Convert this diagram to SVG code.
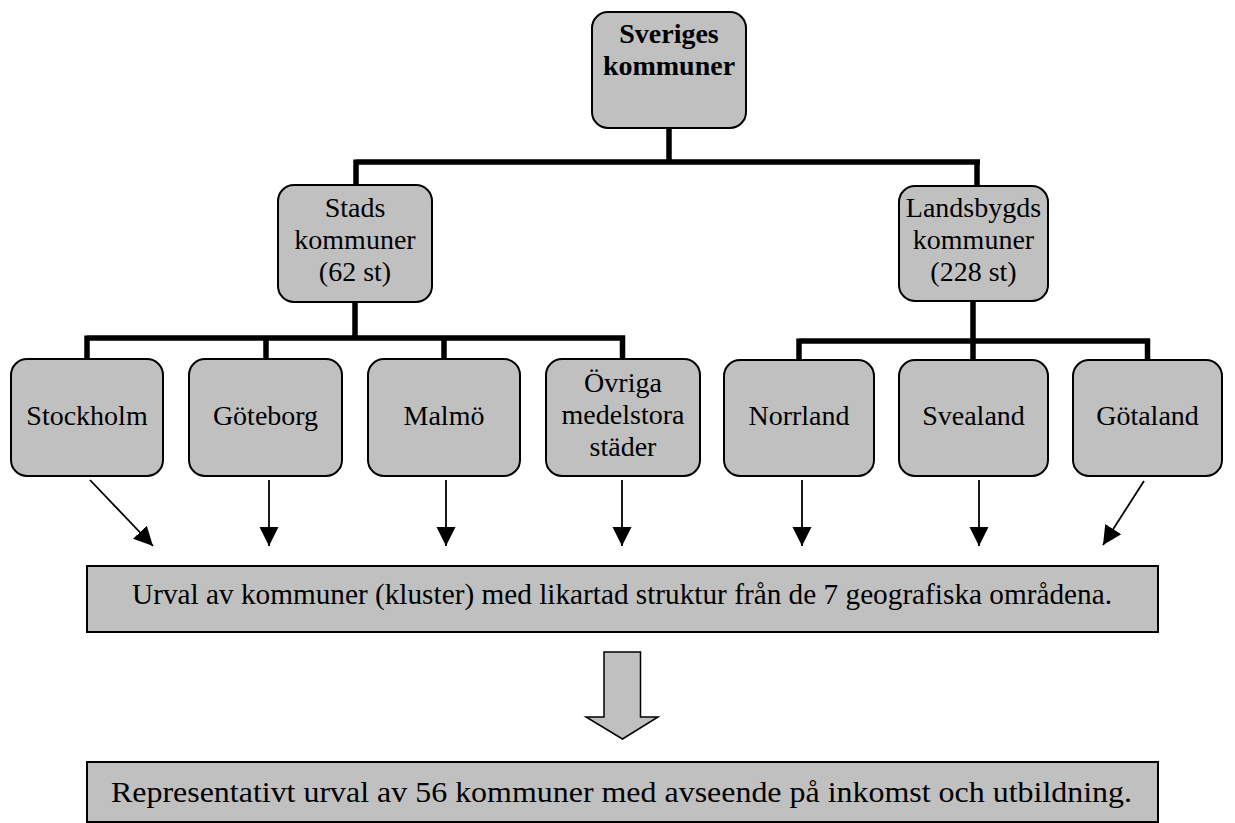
<svg xmlns="http://www.w3.org/2000/svg" width="1235" height="823" viewBox="0 0 1235 823">
<style>
.node{fill:#c0c0c0;stroke:#000;stroke-width:2}
.box{fill:#c0c0c0;stroke:#000;stroke-width:2}
.t{font-family:'Liberation Serif',Tinos,'DejaVu Serif','Times New Roman',serif;font-size:28px;fill:#000;text-anchor:middle}
.big{font-size:29.5px}
.b{font-weight:bold}
.tree{fill:none;stroke:#000;stroke-width:5.5}
.arr{stroke:#000;stroke-width:1.8;fill:none;marker-end:url(#ah)}
</style>
<defs>
<marker id="ah" viewBox="0 0 10 10" refX="10" refY="5" markerUnits="userSpaceOnUse" markerWidth="19" markerHeight="21" orient="auto">
<path d="M0,0 L10,5 L0,10 Z" fill="#000"/>
</marker>
</defs>
<rect width="1235" height="823" fill="#fff"/>
<g id="connectors">
<path class="tree" d="M669,128 V162 M356,162 H980 M356,159.5 V186 M977,159.5 V187"/>
<path class="tree" d="M355,302 V338 M87,338 H625 M87,335.5 V360 M266,335.5 V360 M444,335.5 V360 M622.5,335.5 V360"/>
<path class="tree" d="M973,301 V341 M799,341 H1150 M799,338.5 V361 M973,338.5 V361 M1147.5,338.5 V361"/>
<line class="arr" x1="90" y1="480" x2="153" y2="546"/>
<line class="arr" x1="269" y1="480" x2="269" y2="546"/>
<line class="arr" x1="446" y1="480" x2="446" y2="546"/>
<line class="arr" x1="622" y1="480" x2="622" y2="546"/>
<line class="arr" x1="802" y1="480" x2="802" y2="546"/>
<line class="arr" x1="979" y1="480" x2="979" y2="546"/>
<line class="arr" x1="1144" y1="481" x2="1103" y2="545"/>
<path d="M604,652 H640.5 V717 H658 L622.5,739 L586,717 H604 Z" fill="#c0c0c0" stroke="#000" stroke-width="1.5"/>
</g>
<g id="n-sverige"><rect class="node" x="592" y="12" width="154" height="116" rx="16"/><text class="t b" x="669" y="43">Sveriges</text><text class="t b" x="669" y="75">kommuner</text></g>
<g id="n-stads"><rect class="node" x="278" y="185" width="154" height="117" rx="16"/><text class="t" x="355" y="217">Stads</text><text class="t" x="355" y="249">kommuner</text><text class="t" x="355" y="281">(62 st)</text></g>
<g id="n-lands"><rect class="node" x="899" y="186" width="149" height="115" rx="16"/><text class="t" x="973.5" y="217">Landsbygds</text><text class="t" x="973.5" y="249">kommuner</text><text class="t" x="973.5" y="281">(228 st)</text></g>
<g id="n-sthlm"><rect class="node" x="11" y="359" width="152" height="117" rx="16"/><text class="t" x="87" y="425">Stockholm</text></g>
<g id="n-gbg"><rect class="node" x="189" y="359" width="153" height="117" rx="16"/><text class="t" x="265.5" y="425">Göteborg</text></g>
<g id="n-malmo"><rect class="node" x="368" y="359" width="152" height="117" rx="16"/><text class="t" x="444" y="425">Malmö</text></g>
<g id="n-ovriga"><rect class="node" x="546" y="359" width="154" height="117" rx="16"/><text class="t" x="623" y="392">Övriga</text><text class="t" x="623" y="424">medelstora</text><text class="t" x="623" y="456">städer</text></g>
<g id="n-norr"><rect class="node" x="724" y="360" width="150" height="116" rx="16"/><text class="t" x="799" y="425">Norrland</text></g>
<g id="n-svea"><rect class="node" x="899" y="360" width="149" height="116" rx="16"/><text class="t" x="973.5" y="425">Svealand</text></g>
<g id="n-gota"><rect class="node" x="1073" y="360" width="149" height="116" rx="16"/><text class="t" x="1147.5" y="425">Götaland</text></g>
<g id="n-urval"><rect class="box" x="87" y="566" width="1071" height="66"/><text class="t big" x="622" y="604" textLength="980" lengthAdjust="spacingAndGlyphs">Urval av kommuner (kluster) med likartad struktur från de 7 geografiska områdena.</text></g>
<g id="n-repr"><rect class="box" x="87" y="762" width="1071" height="60"/><text class="t big" x="621.5" y="802" textLength="1021" lengthAdjust="spacingAndGlyphs">Representativt urval av 56 kommuner med avseende på inkomst och utbildning.</text></g>
</svg>
